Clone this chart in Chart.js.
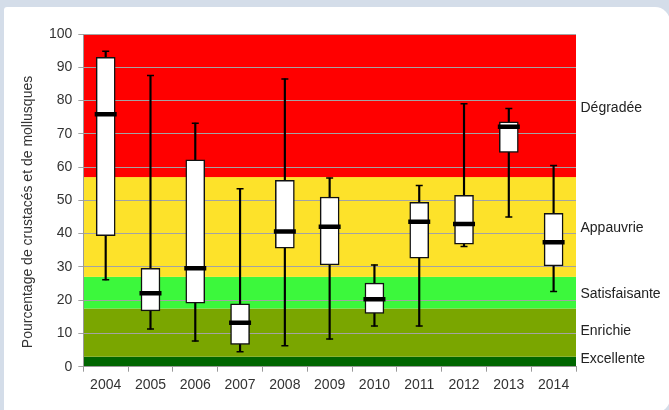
<!DOCTYPE html>
<html>
<head>
<meta charset="utf-8">
<title>Crustacés et mollusques</title>
<script src="https://cdn.jsdelivr.net/npm/chart.js@4/dist/chart.umd.min.js"></script>
<style>
    html, body {
        margin: 0;
        padding: 0;
        background: #d4dde9;
        overflow: hidden;
    }
    .card {
        position: absolute;
        left: 4px;
        top: 7px;
        width: 666px;
        height: 406px;
        background: #ffffff;
        border-radius: 3px 15px 15px 3px;
    }
    .chart-box {
        position: absolute;
        left: 0;
        top: 0;
        width: 669px;
        height: 410px;
    }
</style>
</head>
<body>
<div class="card"></div>
<div class="chart-box"><canvas id="box-chart"></canvas></div>
<script>
// années
const years = ['2004', '2005', '2006', '2007', '2008', '2009', '2010', '2011', '2012', '2013', '2014'];

// boîtes à moustaches (%)
const whiskerMin = [26.1, 11.3, 7.7, 4.5, 6.3, 8.3, 12.2, 12.2, 36.1, 45.0, 22.6];
const quartile1 = [39.4, 16.8, 19.1, 6.7, 35.6, 30.6, 16.0, 32.6, 36.8, 64.4, 30.3];
const medians = [75.9, 22.1, 29.6, 13.2, 40.6, 42.1, 20.3, 43.6, 42.9, 72.1, 37.4];
const quartile3 = [93.0, 29.6, 62.2, 18.9, 56.0, 51.0, 25.1, 49.4, 51.5, 73.6, 46.1];
const whiskerMax = [94.8, 87.5, 73.2, 53.5, 86.5, 56.7, 30.6, 54.5, 79.0, 77.6, 60.5];

// classes de qualité
const bandNames = ['Excellente', 'Enrichie', 'Satisfaisante', 'Appauvrie', 'Dégradée'];
const bandLimits = [0, 3, 17.5, 27, 57, 100];
const bandLabelValues = [2.3, 10.8, 21.9, 41.5, 77.8];

// axe y
const yTicks = [0, 10, 20, 30, 40, 50, 60, 70, 80, 90, 100];

const bandColors = ['#006600', '#7aa600', '#3cf83c', '#fde22a', '#ff0000'];
const font = 'Liberation Sans, Arial, sans-serif';

// fonds colorés + étiquettes de classes + titre de l'axe
const bandsPlugin = {
    id: 'bands',
    beforeDraw(chart) {
        const { ctx, chartArea, scales } = chart;
        ctx.save();
        for (let i = 0; i < bandNames.length; i++) {
            const top = scales.y.getPixelForValue(bandLimits[i + 1]);
            const bottom = scales.y.getPixelForValue(bandLimits[i]);
            ctx.fillStyle = bandColors[i];
            ctx.fillRect(chartArea.left, top, chartArea.right - chartArea.left, bottom - top);
        }
        ctx.restore();
    },
    afterDraw(chart) {
        const { ctx, chartArea, scales } = chart;
        ctx.save();
        ctx.fillStyle = '#222';
        ctx.font = '14px ' + font;
        ctx.textAlign = 'left';
        ctx.textBaseline = 'middle';
        bandNames.forEach((name, i) => {
            ctx.fillText(name, chartArea.right + 4.5, scales.y.getPixelForValue(bandLabelValues[i]));
        });
        ctx.translate(28, scales.y.getPixelForValue(46.5));
        ctx.rotate(-Math.PI / 2);
        ctx.textAlign = 'center';
        ctx.fillStyle = '#333';
        ctx.fillText('Pourcentage de crustacés et de mollusques', 0, 0);
        ctx.restore();
    }
};

const chartData = {
    labels: years,
    datasets: [
        {
            type: 'line',
            data: medians,
            showLine: false,
            pointStyle: 'line',
            pointRadius: 11,
            pointBorderWidth: 4.5,
            pointBorderColor: '#000',
            order: 0
        },
        {
            type: 'bar',
            data: quartile1.map((q, i) => [q, quartile3[i]]),
            backgroundColor: '#ffffff',
            borderColor: '#111',
            borderWidth: 1.5,
            borderSkipped: false,
            barThickness: 19,
            grouped: false,
            order: 1
        },
        {
            type: 'line',
            data: whiskerMax,
            showLine: false,
            pointStyle: 'line',
            pointRadius: 3.5,
            pointBorderWidth: 1.5,
            pointBorderColor: '#000',
            order: 2
        },
        {
            type: 'line',
            data: whiskerMin,
            showLine: false,
            pointStyle: 'line',
            pointRadius: 3.5,
            pointBorderWidth: 1.5,
            pointBorderColor: '#000',
            order: 2
        },
        {
            type: 'bar',
            data: whiskerMin.map((m, i) => [m, whiskerMax[i]]),
            backgroundColor: '#000',
            barThickness: 1.5,
            grouped: false,
            order: 3
        }
    ]
};

new Chart(document.getElementById('box-chart'), {
    type: 'bar',
    data: chartData,
    plugins: [bandsPlugin],
    options: {
        responsive: true,
        maintainAspectRatio: false,
        animation: false,
        layout: {
            padding: { top: 34, right: 93, left: 0, bottom: 0 }
        },
        plugins: {
            legend: { display: false },
            tooltip: { enabled: false }
        },
        scales: {
            x: {
                offset: true,
                grid: {
                    offset: true,
                    drawOnChartArea: false,
                    tickLength: 5,
                    color: '#999'
                },
                border: { color: '#999' },
                ticks: {
                    color: '#333',
                    padding: 5,
                    font: { family: font, size: 14 }
                },
                afterFit(scale) { scale.height = 43.3; }
            },
            y: {
                min: 0,
                max: 100,
                afterBuildTicks(scale) {
                    scale.ticks = yTicks.map(v => ({ value: v }));
                },
                grid: {
                    color: '#a3a3a3',
                    tickLength: 5
                },
                border: { color: '#999' },
                ticks: {
                    color: '#333',
                    padding: 6,
                    font: { family: font, size: 14 }
                },
                afterFit(scale) { scale.width = 83.3; }
            }
        }
    }
});
</script>
</body>
</html>
